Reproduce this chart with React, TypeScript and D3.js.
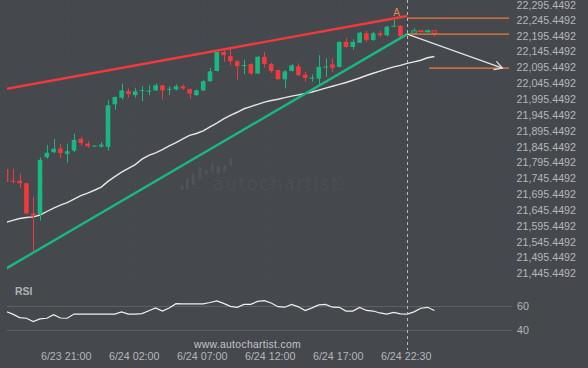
import React from "react";
import * as d3 from "d3";

const W = 588;
const H = 368;

// ---- data ----
const candleIdx = [1,2,3,4,5,6,7,8,9,10,11,12,13,14,15,16,17,18,19,20,21,22,23,24,25,26,27,28,29,30,31,32,33,34,35,36,37,38,39,40,41,42,43,44,45,46,47,48,49,50,51,52,53,54,55,56,57,58,59,61,62,63,64];
const opens = [21775,21738,21738,21730,21635,21633,21812,21828,21839,21823,21833,21870,21855,21848,21846,21845,21979,22000,22021,22008,22022,22020,22023,22039,22027,22026,22036,22027,22008,22023,22052,22084,22144,22131,22115,22102,22106,22076,22129,22106,22087,22058,22084,22099,22073,22061,22060,22096,22105,22097,22176,22160,22173,22203,22182,22203,22197,22226,22227,22203,22211,22210,22211];
const highs = [21776,21776,21760,21732,21686,21812,21851,21870,21855,21855,21886,21876,21863,21850,21860,21992,22004,22044,22029,22031,22036,22039,22045,22040,22036,22042,22041,22029,22026,22055,22094,22145,22155,22155,22118,22120,22108,22131,22145,22110,22088,22087,22106,22108,22081,22073,22134,22124,22124,22177,22187,22184,22208,22211,22208,22211,22226,22245,22229,22219,22212,22215,22211];
const lows = [21733,21730,21715,21633,21517,21612,21807,21825,21809,21796,21828,21849,21842,21847,21842,21833,21962,21994,22000,22000,21989,22008,22021,21994,22008,22023,22025,21997,22006,22021,22050,22083,22113,22102,22057,22074,22072,22075,22095,22078,22057,22029,22083,22068,22050,22050,22042,22065,22081,22096,22158,22152,22172,22176,22179,22192,22194,22223,22192,22202,22209,22206,22192];
const closes = [21734,21735,21730,21635,21628,21804,21826,21839,21825,21831,21867,21857,21847,21849,21852,21976,22002,22023,22011,22020,22024,22022,22039,22023,22028,22036,22029,22013,22023,22052,22083,22144,22134,22115,22100,22103,22076,22129,22106,22084,22058,22083,22102,22071,22062,22063,22097,22098,22094,22176,22160,22176,22205,22182,22203,22197,22224,22227,22194,22211,22210,22211,22203];

const maValues = [21607,21613,21619,21622,21624,21630,21641,21652,21661,21669,21680,21691,21699,21708,21718,21736,21751,21765,21777,21789,21806,21818,21826,21836,21848,21858,21870,21881,21887,21895,21908,21920,21933,21944,21954,21965,21972,21979,21986,21991,21995,22000,22005,22009,22013,22018,22024,22030,22036,22042,22048,22055,22062,22070,22077,22084,22091,22097,22102,22108,22113,22118,22126,22130];
const rsiValues = [55.4,53.2,50.3,49.8,47.0,49.3,49.8,52.8,50.0,49.8,53.3,53.3,53.3,53.3,53.3,53.3,53.3,55.1,53.3,53.3,53.7,56.1,58.4,55.7,58.3,61.9,61.8,61.8,61.8,61.8,62.9,64.3,62.2,59.7,58.9,61.3,61.4,63.8,64.4,62.5,59.4,59.0,61.3,59.3,56.2,58.4,60.9,61.3,59.0,58.9,55.8,55.8,58.8,56.3,55.8,54.2,53.3,54.6,53.4,53.3,55.1,58.1,58.9,56.2];

const tickIdx = [10, 20, 30, 40, 50, 60];
const tickLabels = ["6/23 21:00", "6/24 02:00", "6/24 07:00", "6/24 12:00", "6/24 17:00", "6/24 22:30"];
const priceTicks = [22295.4492,22245.4492,22195.4492,22145.4492,22095.4492,22045.4492,21995.4492,21945.4492,21895.4492,21845.4492,21795.4492,21745.4492,21695.4492,21645.4492,21595.4492,21545.4492,21495.4492,21445.4492];
const rsiTicks = [60, 40];

const resistance = [{ i: 2, p: 22031.5 }, { i: 60, p: 22257.5 }];
const support = [{ i: 2, p: 21473.5 }, { i: 60, p: 22200.5 }];
const levels = [
  { i0: 60, i1: 75, p: 22251 },
  { i0: 60, i1: 75, p: 22200.5 },
  { i0: 63.2, i1: 75, p: 22093 },
];
const arrowFrom = { i: 60, p: 22200.5 };
const arrowTo = { i: 74, p: 22093 };
const patternEndIdx = 60;
const labelA = { i: 58.45, p: 22268, text: "A" };

// ---- styles ----
const BG = "#45484d";
const GREEN = "#19b882";
const RED = "#f2393c";
const ORANGE = "#f47a36";
const TXT = "#b4b7bc";
const FONT = "'Liberation Sans', Arial, sans-serif";

export default function App() {
  const x = d3.scaleLinear().domain([0, 75]).range([-0.8, 509.2]);
  const y = d3.scaleLinear().domain([21445.4492, 22295.4492]).range([273.5, 4]);
  const ry = d3.scaleLinear().domain([40, 60]).range([330, 306]);

  const plotL = 7, plotR = 509;

  const extend = (pts: { i: number; p: number }[], iStart: number) => {
    const [a, b] = pts;
    const slope = (b.p - a.p) / (b.i - a.i);
    return [
      [x(iStart), y(a.p + (iStart - a.i) * slope)],
      [x(b.i), y(b.p)],
    ];
  };
  const resPts = extend(resistance, 1);
  const supPts = extend(support, 1);

  const maLine = d3.line<number>().x((_, k) => x(k + 1)).y((d) => y(d))(maValues) || "";
  const rsiLine = d3.line<number>().x((_, k) => x(k + 1)).y((d) => ry(d))(rsiValues) || "";

  const ax0 = x(arrowFrom.i), ay0 = y(arrowFrom.p), ax1 = x(arrowTo.i), ay1 = y(arrowTo.p);
  const ang = Math.atan2(ay1 - ay0, ax1 - ax0);
  const headLen = 9, headAng = 0.5;
  const h1 = [ax1 - headLen * Math.cos(ang - headAng), ay1 - headLen * Math.sin(ang - headAng)];
  const h2 = [ax1 - headLen * Math.cos(ang + headAng), ay1 - headLen * Math.sin(ang + headAng)];

  const bw = 4.6;
  const px = x(patternEndIdx);

  return (
    <div style={{ position: "fixed", left: 0, top: 0, width: W, height: H }}>
      <svg width={W} height={H} style={{ display: "block", background: BG }} fontFamily={FONT}>
        <defs>
          <clipPath id="plot">
            <rect x={plotL} y={0} width={plotR - plotL} height={285} />
          </clipPath>
          <clipPath id="rsiclip">
            <rect x={plotL} y={290} width={plotR - plotL} height={50} />
          </clipPath>
        </defs>
        <rect x={0} y={0} width={W} height={H} fill={BG} />

        {/* faint grid */}
        <g stroke="#4b4e53" strokeWidth={1} strokeDasharray="1,3">
          {priceTicks.map((p, k) => (
            <line key={"hg" + k} x1={plotL} x2={plotR} y1={Math.round(y(p)) + 0.5} y2={Math.round(y(p)) + 0.5} />
          ))}
          {tickIdx.map((t, k) => (
            <line key={"vg" + k} x1={Math.round(x(t)) + 0.5} x2={Math.round(x(t)) + 0.5} y1={0} y2={280} />
          ))}
        </g>

        {/* watermark */}
        <g fill="#515459">
          {[
            [180.7, 185, 2.8, 5],
            [186, 178.3, 2.8, 11],
            [191.7, 173.3, 2.8, 11.7],
            [198.3, 167.3, 3.2, 12],
            [205, 170, 2.5, 5],
            [211, 163.3, 2.8, 8.4],
            [216.7, 166, 3.2, 8],
            [223.3, 165, 2.8, 6.7],
            [229.3, 158.3, 2.8, 7.4],
          ].map((r, k) => (
            <rect key={"wm" + k} x={r[0]} y={r[1]} width={r[2]} height={r[3]} rx={1} />
          ))}
          <text x={213} y={190} fontSize={18} letterSpacing={1.5} fontWeight={300} fontFamily="'DejaVu Sans', sans-serif">
            autochartist
          </text>
        </g>

        <g clipPath="url(#plot)">
          {/* moving average */}
          <path d={maLine} fill="none" stroke="#e6e6e6" strokeWidth={1.4} />

          {/* candles */}
          {candleIdx.map((idx, k) => {
            const o = opens[k], c = closes[k], hi = highs[k], lo = lows[k];
            const up = c >= o;
            const col = up ? GREEN : RED;
            const cx = x(idx);
            const hollow = idx > patternEndIdx;
            const yTop = y(Math.max(o, c));
            const yBot = y(Math.min(o, c));
            const bh = Math.max(1, yBot - yTop);
            const wx = Math.round(cx) + 0.5;
            return (
              <g key={"c" + k}>
                <line x1={wx} x2={wx} y1={y(hi)} y2={y(lo)} stroke={col} strokeWidth={1} />
                {hollow ? (
                  <rect x={cx - bw / 2} y={yTop} width={bw} height={Math.max(1, bh)} fill={BG} stroke={col} strokeWidth={1} />
                ) : (
                  <rect x={cx - bw / 2} y={yTop} width={bw} height={bh} fill={col} />
                )}
              </g>
            );
          })}

          {/* pattern lines */}
          <line x1={resPts[0][0]} y1={resPts[0][1]} x2={resPts[1][0]} y2={resPts[1][1]} stroke={RED} strokeWidth={2.4} />
          <line x1={supPts[0][0]} y1={supPts[0][1]} x2={supPts[1][0]} y2={supPts[1][1]} stroke={GREEN} strokeWidth={2.4} />

          {/* levels */}
          {levels.map((l, k) => (
            <line key={"lv" + k} x1={x(l.i0)} x2={x(l.i1)} y1={y(l.p)} y2={y(l.p)} stroke={ORANGE} strokeWidth={1.3} />
          ))}

          {/* forecast arrow */}
          <g stroke="#e4e4e4" strokeWidth={1.2} fill="none">
            <line x1={ax0} y1={ay0} x2={ax1} y2={ay1} />
            <polyline points={`${h1[0]},${h1[1]} ${ax1},${ay1} ${h2[0]},${h2[1]}`} />
          </g>

          <text x={x(labelA.i)} y={y(labelA.p)} dy="0.36em" textAnchor="middle" fontSize={10} fill="#e8845a">
            {labelA.text}
          </text>
        </g>

        {/* price axis labels */}
        <g fontSize={10.7} fill={TXT} textAnchor="end">
          {priceTicks.map((p, k) => (
            <text key={"pt" + k} x={576} y={Math.max(y(p), 5)} dy="0.36em">
              {d3.format(",.4f")(p)}
            </text>
          ))}
        </g>

        {/* RSI panel */}
        <text x={15} y={291} dy="0.36em" fontSize={10.5} fontWeight="bold" fill="#aeb2b7">
          RSI
        </text>
        {rsiTicks.map((t, k) => (
          <g key={"rt" + k}>
            <line x1={plotL} x2={512} y1={Math.round(ry(t)) + 0.5} y2={Math.round(ry(t)) + 0.5} stroke="#5c5f64" strokeWidth={1} />
            <text x={517} y={ry(t)} dy="0.36em" fontSize={10.7} fill={TXT}>
              {t}
            </text>
          </g>
        ))}
        <g clipPath="url(#rsiclip)">
          <path d={rsiLine} fill="none" stroke="#f0f0f0" strokeWidth={1.2} />
        </g>

        {/* pattern end marker */}
        <line x1={Math.round(px) + 0.5} x2={Math.round(px) + 0.5} y1={0} y2={350} stroke="#b7babe" strokeWidth={1} strokeDasharray="3,3" />

        {/* url */}
        <text x={301} y={344} dy="0.36em" textAnchor="end" fontSize={10.4} letterSpacing={0.3} fill="#c2c5c9">
          www.autochartist.com
        </text>

        {/* time labels */}
        <g fontSize={10.7} fill={TXT} textAnchor="middle">
          {tickIdx.map((t, k) => (
            <text key={"tl" + k} x={x(t) - 1} y={356} dy="0.36em">
              {tickLabels[k]}
            </text>
          ))}
        </g>
      </svg>
    </div>
  );
}
